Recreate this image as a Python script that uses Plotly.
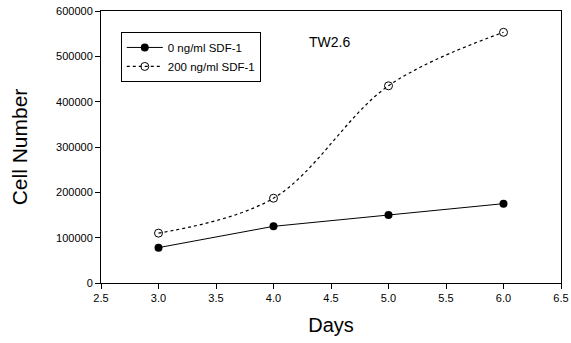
import plotly.graph_objects as go

days = [3.0, 4.0, 5.0, 6.0]
ctrl = [78000, 125000, 150000, 175000]
sdf = [110000, 187000, 435000, 553000]
x_ticks = [2.5, 3.0, 3.5, 4.0, 4.5, 5.0, 5.5, 6.0, 6.5]
y_ticks = [0, 100000, 200000, 300000, 400000, 500000, 600000]

fig = go.Figure()
fig.add_trace(go.Scatter(x=days, y=ctrl, mode="lines+markers", name="0 ng/ml SDF-1",
                         line=dict(color="black", width=1),
                         marker=dict(symbol="circle", size=8, color="black")))
fig.add_trace(go.Scatter(x=days, y=sdf, mode="lines+markers", name="200 ng/ml SDF-1",
                         line=dict(color="black", width=1.2, dash="dot", shape="spline", smoothing=1.0),
                         marker=dict(symbol="circle-open", size=8, color="black", line=dict(width=1))))

fig.add_annotation(x=0.447, y=0.885, xref="paper", yref="paper", text="TW2.6", showarrow=False,
                   xanchor="left", yanchor="middle", font=dict(size=14, color="black"))

fig.update_layout(
    width=571, height=343, autosize=False,
    margin=dict(l=101, r=10, t=11, b=60, autoexpand=False),
    paper_bgcolor="white", plot_bgcolor="white",
    font=dict(family="Liberation Sans, Arial", color="black"),
    showlegend=True,
    legend=dict(x=0.043, y=0.923, xanchor="left", yanchor="top",
                bordercolor="black", borderwidth=1, bgcolor="white",
                font=dict(size=11.5), tracegroupgap=0, itemwidth=36,
                itemsizing="trace"),
    xaxis=dict(range=[2.5, 6.5], tickvals=x_ticks, ticktext=[f"{v:.1f}" for v in x_ticks],
               showgrid=False, zeroline=False, showline=True, linecolor="black", linewidth=1,
               mirror=True, ticks="outside", ticklen=5, tickcolor="black", automargin=False,
               tickfont=dict(size=11),
               title=dict(text="Days", font=dict(size=20), standoff=14)),
    yaxis=dict(range=[0, 600000], tickvals=y_ticks, ticktext=[str(v) for v in y_ticks],
               showgrid=False, zeroline=False, showline=True, linecolor="black", linewidth=1,
               mirror=True, ticks="outside", ticklen=5, tickcolor="black", automargin=False,
               tickfont=dict(size=11),
               title=dict(text="Cell Number", font=dict(size=21), standoff=22)),
)

fig.write_html("out.html")
